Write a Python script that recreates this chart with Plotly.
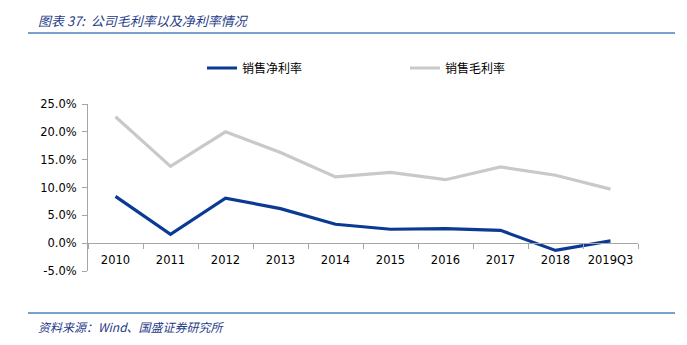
import plotly.graph_objects as go

categories = ["2010", "2011", "2012", "2013", "2014", "2015", "2016", "2017", "2018", "2019Q3"]
net_margin = [8.4, 1.6, 8.1, 6.2, 3.4, 2.5, 2.6, 2.3, -1.3, 0.4]
gross_margin = [22.7, 13.8, 20.0, 16.3, 11.9, 12.7, 11.4, 13.7, 12.2, 9.7]
y_ticks = [-5, 0, 5, 10, 15, 20, 25]

W, H = 687, 345
L, R, T, B = 88, 49, 104, 74
pw, ph = W - L - R, H - T - B

def px_x(px):
    return (px - L) / pw

def px_y(py):
    return (H - B - py) / ph

fig = go.Figure()
fig.add_trace(go.Scatter(x=categories, y=net_margin, mode="lines", name="销售净利率",
                         line=dict(color="#0A3A94", width=3.2)))
fig.add_trace(go.Scatter(x=categories, y=gross_margin, mode="lines", name="销售毛利率",
                         line=dict(color="#C9C9C9", width=3.2)))

ymin, ymax = -5, 25
fig.update_layout(
    width=W, height=H,
    margin=dict(l=L, r=R, t=T, b=B),
    paper_bgcolor="white", plot_bgcolor="white",
    font=dict(family="DejaVu Sans", size=11, color="#000000"),
    showlegend=True,
    legend=dict(orientation="h", x=px_x(202), y=px_y(68), xanchor="left", yanchor="middle",
                entrywidth=158, entrywidthmode="pixels",
                font=dict(family="Noto Sans CJK SC", size=12, color="#000000"),
                bgcolor="rgba(0,0,0,0)"),
    xaxis=dict(type="category", range=[-0.5, 9.5], anchor="free",
               position=(0 - ymin) / (ymax - ymin),
               showline=True, linecolor="#A6A6A6", linewidth=1,
               ticks="outside", tickson="boundaries", ticklen=5, tickcolor="#A6A6A6",
               ticklabelstandoff=6,
               showgrid=False, zeroline=False, fixedrange=True,
               tickfont=dict(family="DejaVu Sans", size=11.5)),
    yaxis=dict(range=[ymin, ymax], tickvals=y_ticks,
               ticktext=[f"{v:.1f}%" for v in y_ticks],
               showline=True, linecolor="#A6A6A6", linewidth=1,
               ticks="outside", ticklen=5, tickcolor="#A6A6A6",
               ticklabelstandoff=3,
               showgrid=False, zeroline=False, fixedrange=True,
               tickfont=dict(family="DejaVu Sans", size=11.5)),
)

fig.add_shape(type="line", xref="paper", yref="paper", x0=px_x(28), x1=px_x(675),
              y0=px_y(33), y1=px_y(33), line=dict(color="#4F81BD", width=1.5))
fig.add_shape(type="line", xref="paper", yref="paper", x0=px_x(28), x1=px_x(675),
              y0=px_y(313), y1=px_y(313), line=dict(color="#4F81BD", width=1.5))

fig.add_annotation(xref="paper", yref="paper", x=px_x(36), y=px_y(20), xanchor="left", yanchor="middle",
                   text="<i>图表 37:  公司毛利率以及净利率情况</i>", showarrow=False,
                   font=dict(family="Noto Sans CJK SC", size=13, color="#1F3C88"))
fig.add_annotation(xref="paper", yref="paper", x=px_x(36), y=px_y(326), xanchor="left", yanchor="middle",
                   text="<i>资料来源：Wind、国盛证券研究所</i>", showarrow=False,
                   font=dict(family="Noto Sans CJK SC", size=12, color="#1F3C88"))

fig.write_html("out.html", config={"displayModeBar": False})
